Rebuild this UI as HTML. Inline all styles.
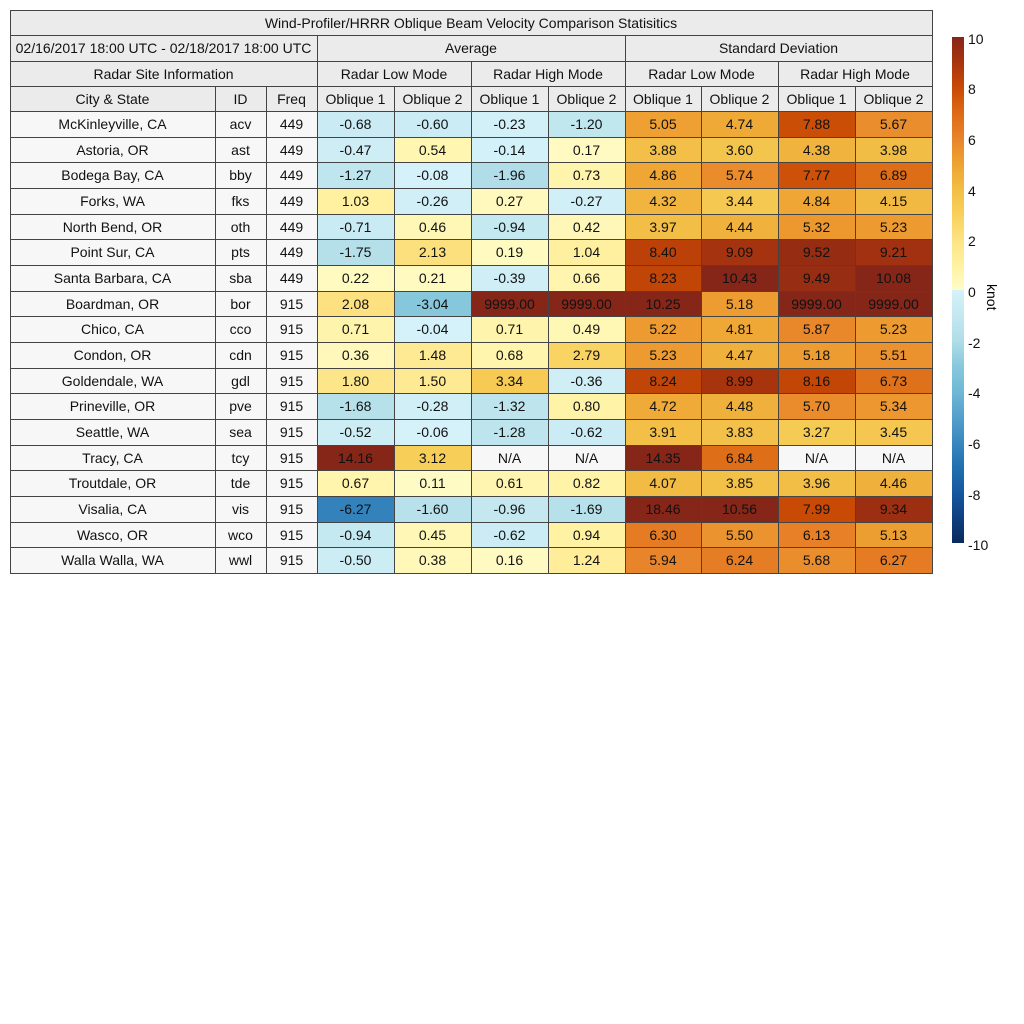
<!DOCTYPE html><html><head><style>
body{margin:0;width:1024px;height:1024px;background:#fff;position:relative;font-family:"Liberation Sans",sans-serif;overflow:hidden}
.c{position:absolute;box-sizing:border-box;border:1px solid #444;display:flex;align-items:center;justify-content:center;font-size:14px;color:#111;margin:-0.5px 0 0 -0.5px}
.h{background:#ebebeb}
.t{background:#f7f7f7}
.lb{position:absolute;left:968px;font-size:14px;color:#111}
</style></head><body>
<div id="g"></div>
<div style="position:absolute;left:952px;top:37px;width:12px;height:253px;background:linear-gradient(to bottom,#862618,#a8340e,#c94a05,#dd6a15,#e8832a,#eea232,#f2bd45,#f8d05a,#fde283,#fff1a0,#fffcc8)"></div>
<div style="position:absolute;left:952px;top:290px;width:12px;height:253px;background:linear-gradient(to bottom,#d6f2fa,#c4e8f0,#b0dde8,#88c8dc,#70b8d6,#55a0cc,#3a88c0,#2070b0,#1558a0,#0f4080,#0a2a5c)"></div>
<div class="lb" style="top:31px">10</div><div class="lb" style="top:81px">8</div><div class="lb" style="top:132px">6</div><div class="lb" style="top:183px">4</div><div class="lb" style="top:233px">2</div><div class="lb" style="top:284px">0</div><div class="lb" style="top:335px">-2</div><div class="lb" style="top:385px">-4</div><div class="lb" style="top:436px">-6</div><div class="lb" style="top:487px">-8</div><div class="lb" style="top:537px">-10</div>
<div style="position:absolute;left:978px;top:284px;font-size:14px;transform:rotate(90deg);transform-origin:left top;left:1000px">knot</div>
<script>
var P=["#fffcc8","#fff1a0","#fde283","#f8d05a","#f2bd45","#eea232","#e8832a","#dd6a15","#c94a05","#a8340e","#862618"];
var N=["#d6f2fa","#c4e8f0","#b0dde8","#88c8dc","#70b8d6","#55a0cc","#3a88c0","#2070b0","#1558a0","#0f4080","#0a2a5c"];
function hx(s){return [1,3,5].map(i=>parseInt(s.substr(i,2),16))}
function col(v){var a=v>=0?P:N;var x=Math.min(Math.abs(v),9.999);var i=Math.floor(x),f=x-i;var p=hx(a[i]),q=hx(a[i+1]);return "rgb("+p.map((c,k)=>Math.round(c+(q[k]-c)*f)).join(",")+")";}
var X=[10,215,266,317,394,471,548,625,701,778,855,932];
var h="";
function cell(x1,y1,x2,y2,txt,cls,bg){h+='<div class="c '+(cls||"")+'" style="left:'+x1+'px;top:'+y1+'px;width:'+(x2-x1+1)+'px;height:'+(y2-y1+1)+'px;'+(bg?'background:'+bg:'')+'">'+txt+'</div>';}
cell(10,10,932,35,"Wind-Profiler/HRRR Oblique Beam Velocity Comparison Statisitics","h");
cell(10,35,317,61,"02/16/2017 18:00 UTC - 02/18/2017 18:00 UTC","h");
cell(317,35,625,61,"Average","h");cell(625,35,932,61,"Standard Deviation","h");
cell(10,61,317,86,"Radar Site Information","h");
var m=["Radar Low Mode","Radar High Mode","Radar Low Mode","Radar High Mode"];
for(var i=0;i<4;i++)cell(X[3+2*i],61,X[5+2*i],86,m[i],"h");
var hd=["City &amp; State","ID","Freq","Oblique 1","Oblique 2","Oblique 1","Oblique 2","Oblique 1","Oblique 2","Oblique 1","Oblique 2"];
for(i=0;i<11;i++)cell(X[i],86,X[i+1],111,hd[i],"h");
var D=[["McKinleyville, CA","acv",449,"-0.68","-0.60","-0.23","-1.20","5.05","4.74","7.88","5.67"],
["Astoria, OR","ast",449,"-0.47","0.54","-0.14","0.17","3.88","3.60","4.38","3.98"],
["Bodega Bay, CA","bby",449,"-1.27","-0.08","-1.96","0.73","4.86","5.74","7.77","6.89"],
["Forks, WA","fks",449,"1.03","-0.26","0.27","-0.27","4.32","3.44","4.84","4.15"],
["North Bend, OR","oth",449,"-0.71","0.46","-0.94","0.42","3.97","4.44","5.32","5.23"],
["Point Sur, CA","pts",449,"-1.75","2.13","0.19","1.04","8.40","9.09","9.52","9.21"],
["Santa Barbara, CA","sba",449,"0.22","0.21","-0.39","0.66","8.23","10.43","9.49","10.08"],
["Boardman, OR","bor",915,"2.08","-3.04","9999.00","9999.00","10.25","5.18","9999.00","9999.00"],
["Chico, CA","cco",915,"0.71","-0.04","0.71","0.49","5.22","4.81","5.87","5.23"],
["Condon, OR","cdn",915,"0.36","1.48","0.68","2.79","5.23","4.47","5.18","5.51"],
["Goldendale, WA","gdl",915,"1.80","1.50","3.34","-0.36","8.24","8.99","8.16","6.73"],
["Prineville, OR","pve",915,"-1.68","-0.28","-1.32","0.80","4.72","4.48","5.70","5.34"],
["Seattle, WA","sea",915,"-0.52","-0.06","-1.28","-0.62","3.91","3.83","3.27","3.45"],
["Tracy, CA","tcy",915,"14.16","3.12","N/A","N/A","14.35","6.84","N/A","N/A"],
["Troutdale, OR","tde",915,"0.67","0.11","0.61","0.82","4.07","3.85","3.96","4.46"],
["Visalia, CA","vis",915,"-6.27","-1.60","-0.96","-1.69","18.46","10.56","7.99","9.34"],
["Wasco, OR","wco",915,"-0.94","0.45","-0.62","0.94","6.30","5.50","6.13","5.13"],
["Walla Walla, WA","wwl",915,"-0.50","0.38","0.16","1.24","5.94","6.24","5.68","6.27"]];
for(var r=0;r<18;r++){var y1=Math.round(111+r*25.67),y2=Math.round(111+(r+1)*25.67);
for(var k=0;k<11;k++){var v=D[r][k];var bg=null;
if(k>=3){if(v=="N/A")bg="#f7f7f7";else bg=col(parseFloat(v));}
cell(X[k],y1,X[k+1],y2,v,k<3?"t":"",bg);}}
document.getElementById("g").innerHTML=h;
</script>
</body></html>
